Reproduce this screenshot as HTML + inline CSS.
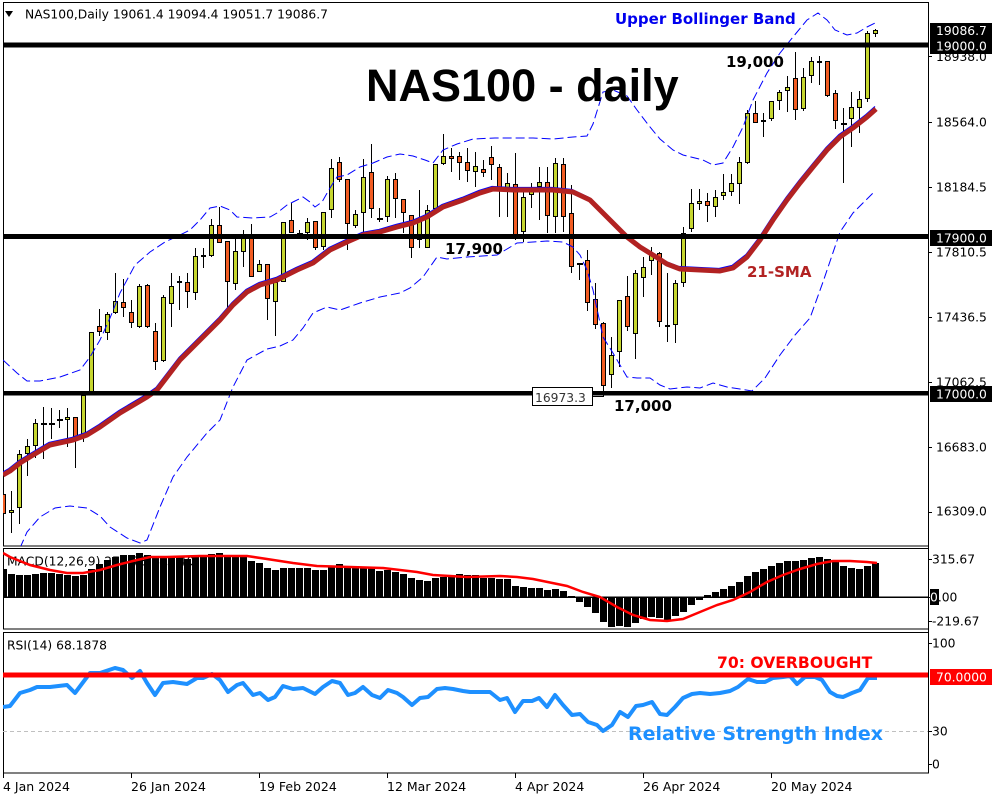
<!DOCTYPE html>
<html><head><meta charset="utf-8"><style>html,body{margin:0;padding:0;background:#fff}svg{display:block}</style></head>
<body>
<svg width="1000" height="800" viewBox="0 0 1000 800" xmlns="http://www.w3.org/2000/svg" font-family="'DejaVu Sans', sans-serif">
<defs>
<clipPath id="cm"><rect x="3" y="3" width="925" height="543"/></clipPath>
<clipPath id="cd"><rect x="3" y="548" width="925" height="81"/></clipPath>
<clipPath id="cr"><rect x="3" y="632" width="925" height="141"/></clipPath>
</defs>
<rect width="1000" height="800" fill="#fff"/>

<!-- pane borders -->
<g fill="none" stroke="#000" stroke-width="1">
<rect x="3.5" y="2.5" width="925" height="543.5"/>
<rect x="3.5" y="548.5" width="925" height="80.5"/>
<rect x="3.5" y="632.5" width="925" height="140.5"/>
</g>

<!-- header -->
<polygon points="5,11 13,11 9,17" fill="#000"/>
<text x="25" y="18.5" font-size="12.3" fill="#000">NAS100,Daily  19061.4 19094.4 19051.7 19086.7</text>

<g clip-path="url(#cm)">
<!-- wicks -->
<path fill="none" stroke="#000" stroke-width="1" d="M3.5 488V520M11.5 491V533M19.5 450V524M27.5 439V476M35.5 419V458M43.5 407V459M51.5 408V439M59.5 410V428M67.5 408V447M75.5 417V468M83.5 393V442M91.5 332V394M99.5 309V336M107.5 312V340M115.5 273V314M123.5 279V317M131.5 300V328M139.5 284V328M147.5 284V328M155.5 323V370M163.5 295V362M171.5 273V327M179.5 276V310M187.5 273V308M195.5 248V300M203.5 248V268M211.5 219V257M219.5 207V243M227.5 241V308M235.5 238V290M243.5 230V267M251.5 224V277M259.5 260V272M267.5 264V320M275.5 279V336M283.5 222V282M291.5 203V233M299.5 230V237M307.5 218V240M315.5 221V250M323.5 212V250M331.5 159V218M339.5 157V182M347.5 179V250M355.5 210V228M363.5 159V232M371.5 144V218M379.5 208V222M387.5 176V222M395.5 173V218M403.5 199V233M411.5 215V258M419.5 190V248M427.5 205V248M435.5 164V209M443.5 134V165M451.5 148V172M459.5 152V180M467.5 148V182M475.5 152V187M483.5 160V177M491.5 146V180M499.5 164V217M507.5 173V217M515.5 153V240M523.5 191V242M531.5 183V208M539.5 167V220M547.5 167V233M555.5 158V233M563.5 158V232M571.5 185V273M579.5 264V280M587.5 250V311M595.5 283V329M603.5 322V394M611.5 337V388M619.5 300V367M627.5 276V331M635.5 270V359M643.5 257V297M651.5 247V275M659.5 252V327M667.5 273V342M675.5 280V343M683.5 227V287M691.5 189V232M699.5 189V210M707.5 193V222M715.5 190V217M723.5 174V200M731.5 174V196M739.5 157V204M747.5 110V164M755.5 101V123M763.5 113V137M771.5 101V121M779.5 90V110M787.5 76V112M795.5 52V120M803.5 68V111M811.5 57V83M819.5 56V85M827.5 61V97M835.5 90V129M843.5 108V183M851.5 92V147M859.5 91V133M867.5 31V102M875.5 29V37"/>
<!-- bull bodies -->
<path fill="#c6d62f" stroke="#000" stroke-width="1" d="M9.5 510.5h4v2h-4zM17.5 454.5h4v53h-4zM25.5 446.5h4v7h-4zM33.5 423.5h4v22h-4zM65.5 417.5h4v2h-4zM81.5 395.5h4v41h-4zM89.5 332.5h4v59h-4zM105.5 314.5h4v18h-4zM113.5 301.5h4v11h-4zM137.5 286.5h4v40h-4zM161.5 297.5h4v63h-4zM169.5 286.5h4v17h-4zM193.5 256.5h4v36h-4zM201.5 255.5h4v1h-4zM209.5 225.5h4v30h-4zM233.5 251.5h4v32h-4zM241.5 238.5h4v13h-4zM257.5 264.5h4v7h-4zM273.5 282.5h4v19h-4zM281.5 222.5h4v59h-4zM305.5 222.5h4v10h-4zM321.5 212.5h4v34h-4zM329.5 168.5h4v41h-4zM353.5 214.5h4v11h-4zM361.5 177.5h4v35h-4zM385.5 179.5h4v37h-4zM417.5 218.5h4v21h-4zM425.5 210.5h4v37h-4zM433.5 164.5h4v44h-4zM441.5 156.5h4v7h-4zM473.5 166.5h4v5h-4zM505.5 183.5h4v4h-4zM521.5 197.5h4v34h-4zM529.5 187.5h4v7h-4zM537.5 182.5h4v4h-4zM553.5 163.5h4v53h-4zM609.5 355.5h4v19h-4zM617.5 300.5h4v51h-4zM633.5 273.5h4v60h-4zM641.5 267.5h4v10h-4zM649.5 253.5h4v7h-4zM673.5 283.5h4v41h-4zM681.5 233.5h4v49h-4zM689.5 203.5h4v25h-4zM697.5 201.5h4v2h-4zM713.5 197.5h4v9h-4zM721.5 192.5h4v3h-4zM729.5 183.5h4v8h-4zM737.5 162.5h4v21h-4zM745.5 113.5h4v49h-4zM769.5 101.5h4v17h-4zM777.5 92.5h4v8h-4zM785.5 87.5h4v3h-4zM801.5 77.5h4v31h-4zM809.5 61.5h4v14h-4zM817.5 61.5h4v1h-4zM849.5 107.5h4v11h-4zM857.5 99.5h4v8h-4zM865.5 33.5h4v65h-4zM873.5 30.5h4v3h-4z"/>
<!-- bear bodies -->
<path fill="#f25c22" stroke="#000" stroke-width="1" d="M1.5 494.5h4v19h-4zM73.5 417.5h4v19h-4zM97.5 326.5h4v5h-4zM121.5 302.5h4v5h-4zM129.5 312.5h4v10h-4zM145.5 285.5h4v41h-4zM153.5 331.5h4v30h-4zM177.5 281.5h4v1h-4zM185.5 282.5h4v9h-4zM217.5 225.5h4v17h-4zM225.5 241.5h4v40h-4zM249.5 238.5h4v38h-4zM265.5 264.5h4v34h-4zM289.5 220.5h4v12h-4zM313.5 221.5h4v26h-4zM337.5 162.5h4v17h-4zM345.5 179.5h4v44h-4zM369.5 172.5h4v36h-4zM393.5 179.5h4v19h-4zM401.5 199.5h4v13h-4zM409.5 215.5h4v32h-4zM449.5 156.5h4v2h-4zM457.5 156.5h4v6h-4zM465.5 162.5h4v8h-4zM481.5 169.5h4v3h-4zM489.5 157.5h4v7h-4zM497.5 167.5h4v20h-4zM513.5 184.5h4v50h-4zM545.5 182.5h4v33h-4zM561.5 164.5h4v52h-4zM569.5 213.5h4v53h-4zM585.5 260.5h4v42h-4zM593.5 299.5h4v25h-4zM601.5 323.5h4v62h-4zM625.5 296.5h4v30h-4zM657.5 253.5h4v68h-4zM665.5 325.5h4v1h-4zM705.5 201.5h4v4h-4zM753.5 113.5h4v9h-4zM761.5 120.5h4v1h-4zM793.5 78.5h4v31h-4zM825.5 61.5h4v34h-4zM833.5 93.5h4v27h-4z"/>
<!-- dojis -->
<path fill="#000" d="M41 423h6v2h-6zM49 423h6v2h-6zM57 419h6v2h-6zM297 233h6v2h-6zM377 218h6v2h-6zM577 263h6v2h-6zM841 123h6v2h-6z"/>

<!-- Bollinger bands -->
<g fill="none" stroke="#0000ff" stroke-width="1" stroke-dasharray="9 4">
<polyline points="3,360 17,373 27,381 40,381 60,377 80,370 90,357 100,340 110,318 120,293 135,265 150,252 165,242 178,236 190,230 200,220 210,208 220,206 230,210 237,217 253,218 270,217 277,213 287,205 293,202 303,197 310,202 315,207 322,202 330,188 337,177 347,175 360,167 373,163 387,157 400,154 413,156 425,160 433,163 443,150 457,144 473,139 495,138 533,138 553,139 573,137 587,136 593,124 603,92 613,90 627,96 637,110 650,127 660,139 673,150 683,155 703,160 713,165 723,163 733,147 743,127 753,100 767,73 780,53 793,37 807,20 818,13 827,20 835,30 847,35 857,33 867,27 875,23"/>
<polyline points="20,548 27,532 40,517 55,508 70,506 87,508 100,516 110,527 127,538 140,543 147,540 160,507 173,477 187,457 207,433 220,420 233,387 247,360 267,349 280,346 293,340 303,328 313,313 327,307 340,310 360,303 380,297 400,293 410,288 423,277 437,257 447,259 467,257 497,255 517,243 533,242 547,241 563,242 573,247 580,255 587,270 593,290 603,337 613,353 627,377 637,378 650,378 660,385 670,389 687,387 700,388 713,383 727,387 740,389 752,391 765,378 780,355 795,335 810,318 823,282 840,232 853,213 873,193"/>
</g>
<polyline transform="translate(-1,-2.5)" fill="none" stroke="#0000ff" stroke-width="1.2" points="3,475 10,471 20,463 33,455 50,445 73,440 87,435 100,427 120,413 147,397 157,390 167,377 180,360 200,340 220,320 233,305 247,292 260,285 277,280 297,270 313,263 330,250 347,242 363,235 380,232 397,227 413,223 427,217 443,207 463,200 480,193 493,189 513,190 533,190 553,190 573,192 590,200 600,210 613,223 627,237 640,247 653,255 667,264 680,269 700,270 720,271 733,268 747,257 760,240 773,220 787,200 800,183 813,167 827,150 840,137 853,128 867,117 876,109"/>
<!-- 21 SMA -->
<polyline fill="none" stroke="#b22222" stroke-width="5" stroke-linejoin="round" points="3,475 10,471 20,463 33,455 50,445 73,440 87,435 100,427 120,413 147,397 157,390 167,377 180,360 200,340 220,320 233,305 247,292 260,285 277,280 297,270 313,263 330,250 347,242 363,235 380,232 397,227 413,223 427,217 443,207 463,200 480,193 493,189 513,190 533,190 553,190 573,192 590,200 600,210 613,223 627,237 640,247 653,255 667,264 680,269 700,270 720,271 733,268 747,257 760,240 773,220 787,200 800,183 813,167 827,150 840,137 853,128 867,117 876,109"/>

<!-- horizontal levels -->
<rect x="0" y="42.5" width="928" height="5" fill="#000"/>
<rect x="0" y="234" width="928" height="5" fill="#000"/>
<rect x="0" y="391" width="928" height="4.5" fill="#000"/>

<!-- low label -->
<path d="M593 396.5H603.5V389" fill="none" stroke="#000" stroke-width="1"/>
<rect x="532.5" y="387.5" width="60" height="18" fill="#fff" stroke="#000" stroke-width="1"/>
<text x="535" y="402" font-size="12.3" fill="#333">16973.3</text>
</g>

<!-- annotations main -->
<text x="366" y="101" font-family="'Liberation Sans', sans-serif" font-weight="bold" font-size="45" fill="#000">NAS100 - daily</text>
<text x="615" y="24" font-weight="bold" font-size="15" fill="#0000ee">Upper Bollinger Band</text>
<text x="726" y="67" font-weight="bold" font-size="15" fill="#000">19,000</text>
<text x="445" y="254" font-weight="bold" font-size="15" fill="#000">17,900</text>
<text x="614" y="411" font-weight="bold" font-size="15" fill="#000">17,000</text>
<text x="747" y="277" font-weight="bold" font-size="15" fill="#b22222">21-SMA</text>

<!-- right axis -->
<line x1="928.5" y1="2" x2="928.5" y2="773" stroke="#000" stroke-width="1"/>
<g stroke="#000" stroke-width="1">
<path d="M928 56.5h4M928 122.5h4M928 187.5h4M928 252.5h4M928 317.5h4M928 382.5h4M928 447.5h4M928 512.5h4M928 559.5h4M928 597.5h4M928 621.5h4M928 643.5h4M928 731.5h4M928 764.5h4"/>
</g>
<g font-size="12.3" fill="#000">
<text x="936" y="61">18938.0</text>
<text x="936" y="126.5">18564.0</text>
<text x="936" y="191.5">18184.5</text>
<text x="936" y="256.5">17810.5</text>
<text x="936" y="321.5">17436.5</text>
<text x="936" y="386.5">17062.5</text>
<text x="936" y="451.5">16683.0</text>
<text x="936" y="515.5">16309.0</text>
</g>
<rect x="930" y="23" width="62" height="15" fill="#000"/>
<rect x="930" y="38" width="62" height="16" fill="#000"/>
<rect x="930" y="230" width="62" height="16" fill="#000"/>
<rect x="930" y="386" width="62" height="16" fill="#000"/>
<g font-size="12.3" fill="#fff">
<text x="936" y="35">19086.7</text>
<text x="936" y="50.5">19000.0</text>
<text x="936" y="242.5">17900.0</text>
<text x="936" y="398.5">17000.0</text>
</g>

<!-- MACD pane -->
<text x="7" y="565.5" font-size="12.3" fill="#000">MACD(12,26,9) 277.73 285.40</text>
<g clip-path="url(#cd)" fill="#000">
<rect x="0" y="569" width="7" height="28"/><rect x="8" y="574" width="7" height="23"/><rect x="16" y="575" width="7" height="22"/><rect x="24" y="575" width="7" height="22"/><rect x="32" y="574" width="7" height="23"/><rect x="40" y="573" width="7" height="24"/><rect x="48" y="573" width="7" height="24"/><rect x="56" y="574" width="7" height="23"/><rect x="64" y="575" width="7" height="22"/><rect x="72" y="576" width="7" height="21"/><rect x="80" y="575" width="7" height="22"/><rect x="88" y="569" width="7" height="28"/><rect x="96" y="564" width="7" height="33"/><rect x="104" y="560" width="7" height="37"/><rect x="112" y="557" width="7" height="40"/><rect x="120" y="555" width="7" height="42"/><rect x="128" y="555" width="7" height="42"/><rect x="136" y="553" width="7" height="44"/><rect x="144" y="555" width="7" height="42"/><rect x="152" y="557" width="7" height="40"/><rect x="160" y="557" width="7" height="40"/><rect x="168" y="557" width="7" height="40"/><rect x="176" y="557" width="7" height="40"/><rect x="184" y="559" width="7" height="38"/><rect x="192" y="557" width="7" height="40"/><rect x="200" y="557" width="7" height="40"/><rect x="208" y="554" width="7" height="43"/><rect x="216" y="553" width="7" height="44"/><rect x="224" y="556" width="7" height="41"/><rect x="232" y="557" width="7" height="40"/><rect x="240" y="557" width="7" height="40"/><rect x="248" y="561" width="7" height="36"/><rect x="256" y="563" width="7" height="34"/><rect x="264" y="568" width="7" height="29"/><rect x="272" y="570" width="7" height="27"/><rect x="280" y="568" width="7" height="29"/><rect x="288" y="568" width="7" height="29"/><rect x="296" y="568" width="7" height="29"/><rect x="304" y="568" width="7" height="29"/><rect x="312" y="570" width="7" height="27"/><rect x="320" y="570" width="7" height="27"/><rect x="328" y="566" width="7" height="31"/><rect x="336" y="564" width="7" height="33"/><rect x="344" y="568" width="7" height="29"/><rect x="352" y="568" width="7" height="29"/><rect x="360" y="568" width="7" height="29"/><rect x="368" y="568" width="7" height="29"/><rect x="376" y="571" width="7" height="26"/><rect x="384" y="570" width="7" height="27"/><rect x="392" y="572" width="7" height="25"/><rect x="400" y="574" width="7" height="23"/><rect x="408" y="578" width="7" height="19"/><rect x="416" y="580" width="7" height="17"/><rect x="424" y="581" width="7" height="16"/><rect x="432" y="578" width="7" height="19"/><rect x="440" y="577" width="7" height="20"/><rect x="448" y="577" width="7" height="20"/><rect x="456" y="574" width="7" height="23"/><rect x="464" y="575" width="7" height="22"/><rect x="472" y="575" width="7" height="22"/><rect x="480" y="578" width="7" height="19"/><rect x="488" y="578" width="7" height="19"/><rect x="496" y="579" width="7" height="18"/><rect x="504" y="579" width="7" height="18"/><rect x="512" y="586" width="7" height="11"/><rect x="520" y="587" width="7" height="10"/><rect x="528" y="588" width="7" height="9"/><rect x="536" y="588" width="7" height="9"/><rect x="544" y="590" width="7" height="7"/><rect x="552" y="589" width="7" height="8"/><rect x="560" y="591" width="7" height="6"/><rect x="568" y="596" width="7" height="1"/>
<rect x="576" y="597" width="7" height="5"/><rect x="584" y="597" width="7" height="10"/><rect x="592" y="597" width="7" height="16"/><rect x="600" y="597" width="7" height="25"/><rect x="608" y="597" width="7" height="30"/><rect x="616" y="597" width="7" height="29"/><rect x="624" y="597" width="7" height="30"/><rect x="632" y="597" width="7" height="26"/><rect x="640" y="597" width="7" height="22"/><rect x="648" y="597" width="7" height="20"/><rect x="656" y="597" width="7" height="21"/><rect x="664" y="597" width="7" height="23"/><rect x="672" y="597" width="7" height="19"/><rect x="680" y="597" width="7" height="15"/><rect x="688" y="597" width="7" height="8"/><rect x="696" y="597" width="7" height="3"/>
<rect x="704" y="595" width="7" height="2"/><rect x="712" y="592" width="7" height="5"/><rect x="720" y="589" width="7" height="8"/><rect x="728" y="586" width="7" height="11"/><rect x="736" y="582" width="7" height="15"/><rect x="744" y="576" width="7" height="21"/><rect x="752" y="572" width="7" height="25"/><rect x="760" y="569" width="7" height="28"/><rect x="768" y="566" width="7" height="31"/><rect x="776" y="563" width="7" height="34"/><rect x="784" y="561" width="7" height="36"/><rect x="792" y="561" width="7" height="36"/><rect x="800" y="560" width="7" height="37"/><rect x="808" y="558" width="7" height="39"/><rect x="816" y="557" width="7" height="40"/><rect x="824" y="559" width="7" height="38"/><rect x="832" y="562" width="7" height="35"/><rect x="840" y="566" width="7" height="31"/><rect x="848" y="568" width="7" height="29"/><rect x="856" y="569" width="7" height="28"/><rect x="864" y="566" width="7" height="31"/><rect x="872" y="563" width="7" height="34"/>
<rect x="3" y="596.5" width="925" height="1.5"/>
<polyline fill="none" stroke="#ff0000" stroke-width="2.5" points="3,553 10,557 30,565 50,570 67,573 83,573 100,570 117,565 133,561 150,557 167,557 200,556 247,556 267,559 293,563 317,566 350,567 383,568 417,572 433,575 467,577 500,576 517,577 533,579 567,586 583,592 600,597 617,607 633,615 650,620 667,621 683,619 700,612 717,605 733,600 750,592 767,582 783,575 800,569 817,564 833,561 850,561 867,562 877,563"/>
</g>
<g font-size="12.3" fill="#000">
<text x="932" y="563.5">315.67</text>
<rect x="930" y="589" width="9" height="16" fill="#000"/>
<text x="930" y="601.5"><tspan fill="#fff">0</tspan>.00</text>
<text x="932" y="625.5">-219.67</text>
</g>

<!-- RSI pane -->
<text x="7" y="649.5" font-size="12.3" fill="#000">RSI(14) 68.1878</text>
<g clip-path="url(#cr)">
<line x1="3" y1="731.5" x2="928" y2="731.5" stroke="#c0c0c0" stroke-width="1" stroke-dasharray="4 3"/>
<polyline fill="none" stroke="#1e90ff" stroke-width="4" stroke-linejoin="round" points="3,707 10,706 20,693 30,690 37,687 50,687 67,685 75,693 90,673 100,673 115,668 123,670 132,678 140,671 147,683 155,695 163,683 173,682 187,684 197,678 203,678 212,674 220,680 228,692 237,685 243,683 253,695 260,693 268,700 275,697 283,686 293,689 303,688 315,694 323,687 332,681 340,683 348,695 355,693 363,687 372,695 380,698 388,690 397,693 403,697 412,705 420,698 428,697 437,689 445,688 453,689 463,691 470,692 480,692 490,692 500,700 507,698 515,712 523,701 532,701 539,698 547,707 555,695 563,705 572,715 580,714 588,722 597,725 603,731 612,725 620,712 628,717 636,706 643,705 652,702 660,714 667,715 675,707 683,698 692,694 700,693 710,694 720,693 730,691 738,687 748,679 757,682 765,682 773,678 783,677 790,676 797,684 805,677 815,677 822,680 830,692 837,696 843,697 852,693 860,690 868,678 877,678"/>
<rect x="0" y="672.5" width="928" height="5" fill="#ff0000"/>
</g>
<text x="717" y="668" font-weight="bold" font-size="15.6" fill="#ff0000">70: OVERBOUGHT</text>
<text x="628" y="740" font-weight="bold" font-size="19" fill="#1e90ff">Relative Strength Index</text>
<g font-size="12.3" fill="#000">
<text x="932" y="647.5">100</text>
<text x="932" y="735.5">30</text>
<text x="932" y="768.5">0</text>
</g>
<rect x="930" y="669" width="62" height="16" fill="#ff0000"/>
<text x="936" y="681.5" font-size="12.3" fill="#fff">70.0000</text>

<!-- date axis -->
<path d="M3.5 773v5M131.5 773v5M259.5 773v5M387.5 773v5M515.5 773v5M643.5 773v5M771.5 773v5" stroke="#000" stroke-width="1"/>
<g font-size="12.5" fill="#000">
<text x="3" y="791">4 Jan 2024</text>
<text x="131" y="791">26 Jan 2024</text>
<text x="259" y="791">19 Feb 2024</text>
<text x="387" y="791">12 Mar 2024</text>
<text x="515" y="791">4 Apr 2024</text>
<text x="643" y="791">26 Apr 2024</text>
<text x="771" y="791">20 May 2024</text>
</g>
</svg>
</body></html>
